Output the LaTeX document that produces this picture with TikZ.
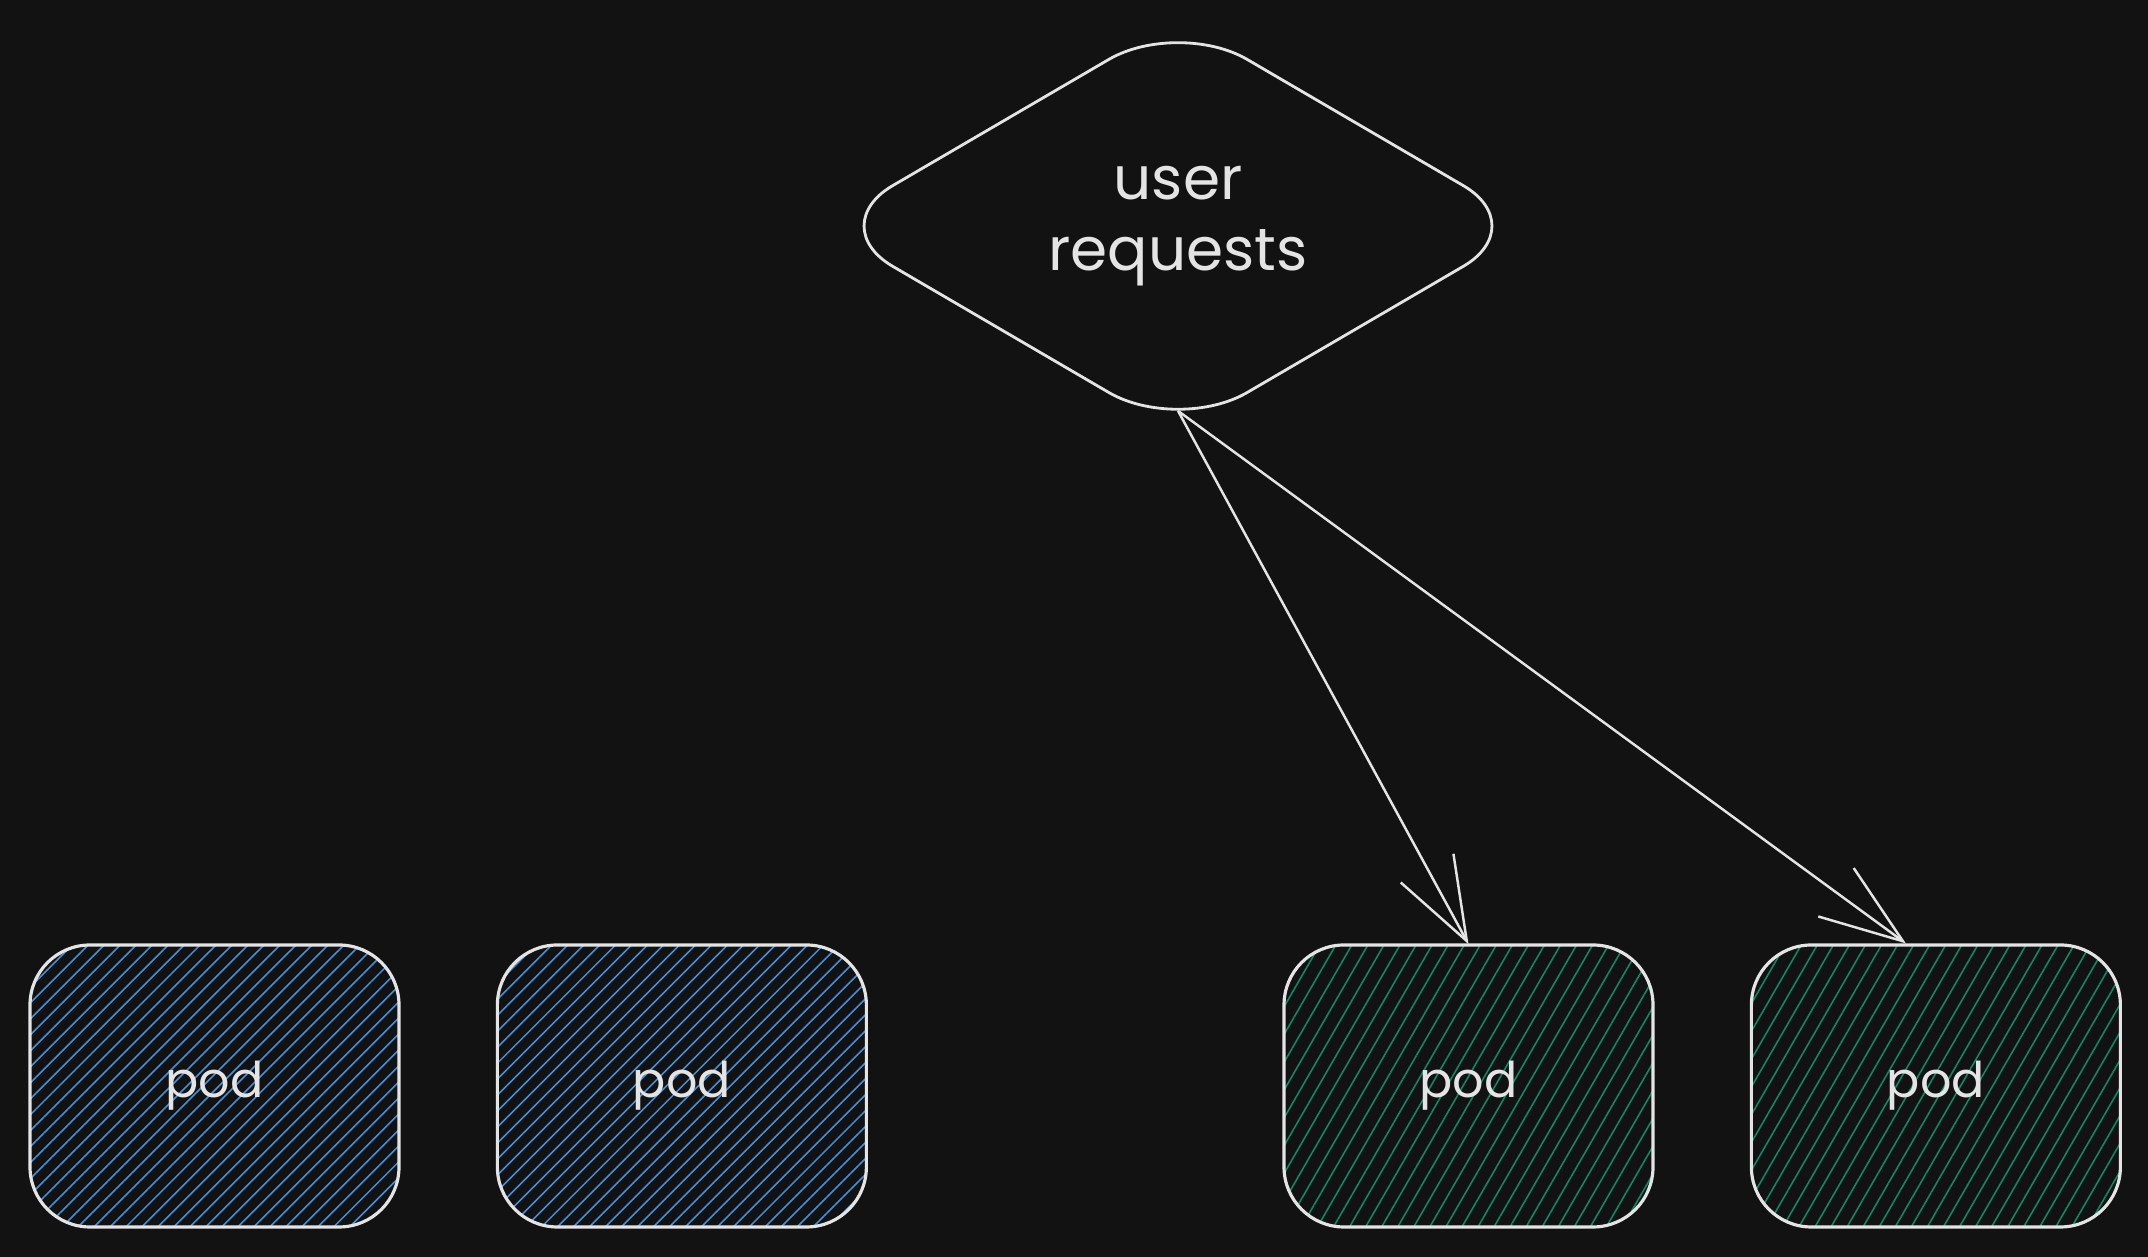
\documentclass[tikz,border=0pt]{standalone}
\usepackage{fontspec}
\setmainfont{Poppins}
\usetikzlibrary{positioning,shapes.geometric,arrows.meta,patterns.meta}

\definecolor{canvas}{HTML}{121212}
\definecolor{inkwhite}{HTML}{E4E4E4}
\definecolor{podblue}{HTML}{4290DC}
\definecolor{podgreen}{HTML}{0B8A66}

\tikzset{
  pod/.style={draw=inkwhite, line width=0.9pt, rounded corners=0.6cm,
    minimum width=3.69cm, minimum height=2.82cm, text=inkwhite,
    font=\fontsize{14}{17}\selectfont},
  bluepod/.style={pod, pattern={Lines[angle=45,distance=1.13mm,line width=0.45pt]},
    pattern color=podblue},
  greenpod/.style={pod, pattern={Lines[angle=60,distance=1.39mm,line width=0.45pt]},
    pattern color=podgreen},
  decision/.style={diamond, draw=inkwhite, line width=0.8pt, rounded corners=0.8cm,
    minimum width=7.1cm, minimum height=4.15cm, inner sep=0pt, align=center,
    text=inkwhite, font=\fontsize{17}{20}\selectfont},
  flow/.style={draw=inkwhite, line width=0.7pt,
    -{Straight Barb[length=8.3mm, width=6mm]}}
}

\begin{document}
\begin{tikzpicture}

\useasboundingbox (0,0) rectangle (21.48,12.57);
\fill[canvas] (0,0) rectangle (21.48,12.57);

\node [decision] (req) at (11.78,10.31) {user\\requests};

\node [bluepod] (podA) at (2.145,1.71) {pod};
\node [bluepod, right=0.96cm of podA] (podB) {pod};

\node [greenpod] (podC) at (14.685,1.71) {pod};
\node [greenpod, right=0.96cm of podC] (podD) {pod};

\coordinate (reqtip) at ([yshift=2.4mm]req.south);
\draw [flow] (reqtip) -- (podC.north);
\draw [flow] (reqtip) -- ([xshift=-3mm]podD.north);

\end{tikzpicture}
\end{document}
